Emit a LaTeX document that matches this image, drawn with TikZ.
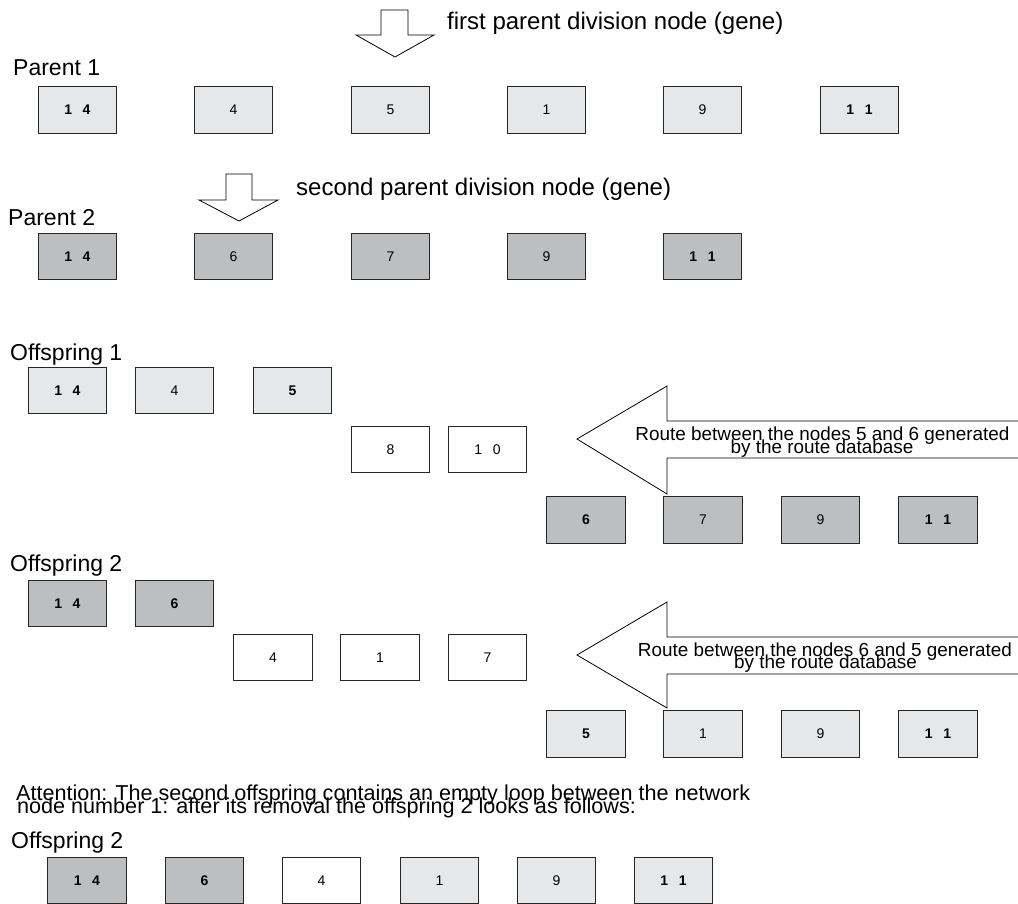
\documentclass[tikz,border=0pt]{standalone}
\usepackage{fontspec}
\setmainfont{Liberation Sans}
\definecolor{lightg}{HTML}{E6E7E8}
\definecolor{darkg}{HTML}{BCBEC0}
\newcommand{\pair}[2]{#1\hspace{0.75em}#2}
\begin{document}
\begin{tikzpicture}[x=1pt,y=-1pt,
  cell/.style={draw=black!85, line width=0.8pt, minimum width=78.5pt, minimum height=46.5pt,
    inner sep=0pt, font=\fontsize{14}{16}\selectfont},
  lite/.style={cell, fill=lightg},
  dark/.style={cell, fill=darkg},
  blank/.style={cell, fill=white},
  caption/.style={inner sep=0pt, anchor=base west, font=\fontsize{23}{27}\selectfont},
  note/.style={inner sep=0pt, anchor=base west, font=\fontsize{24}{28}\selectfont},
  route/.style={inner sep=0pt, anchor=base, font=\fontsize{18.9}{20}\selectfont},
  remark/.style={inner sep=0pt, anchor=base west, font=\fontsize{21.6}{24}\selectfont},
  bigarrow/.style={draw=black, line width=0.8pt, fill=white, line join=miter}
]
\useasboundingbox (0,0) rectangle (1018,903);

% ---- division markers -------------------------------------------------
\draw[bigarrow] (381,10) -- (408,10) -- (408,35) -- (434,35) -- (395,57)
  -- (356,35) -- (381,35) -- cycle;
\node[note] (div1) at (447,29) {first parent division node (gene)};

\draw[bigarrow] (226,174) -- (252,174) -- (252,200) -- (278,200) -- (239,221)
  -- (199,200) -- (226,200) -- cycle;
\node[note] (div2) at (296,195) {second parent division node (gene)};

% ---- Parent 1 -----------------------------------------------------------
\node[caption] (lp1) at (13,75) {Parent 1};
\node[lite] (p1a) at (77.5,110)  {\textbf{\pair14}};
\node[lite] (p1b) at (233.5,110) {4};
\node[lite] (p1c) at (390.5,110) {5};
\node[lite] (p1d) at (546.5,110) {1};
\node[lite] (p1e) at (702.5,110) {9};
\node[lite] (p1f) at (859.5,110) {\textbf{\pair11}};

% ---- Parent 2 -----------------------------------------------------------
\node[caption] (lp2) at (8,225) {Parent 2};
\node[dark] (p2a) at (77.5,256.5)  {\textbf{\pair14}};
\node[dark] (p2b) at (233.5,256.5) {6};
\node[dark] (p2c) at (390.5,256.5) {7};
\node[dark] (p2d) at (546.5,256.5) {9};
\node[dark] (p2e) at (702.5,256.5) {\textbf{\pair11}};

% ---- Offspring 1 --------------------------------------------------------
\node[caption] (lo1) at (10,360) {Offspring 1};
\node[lite] (o1a) at (67.5,390.5)  {\textbf{\pair14}};
\node[lite] (o1b) at (174.5,390.5) {4};
\node[lite] (o1c) at (292.5,390.5) {\textbf{5}};
\node[blank] (o1d) at (390.5,449.5) {8};
\node[blank] (o1e) at (487.5,449.5) {\pair10};
\node[dark] (o1f) at (586,520)   {\textbf{6}};
\node[dark] (o1g) at (703,520)   {7};
\node[dark] (o1h) at (820.5,520) {9};
\node[dark] (o1i) at (938,520)   {\textbf{\pair11}};

\draw[bigarrow] (1020,421) -- (667,421) -- (667,386) -- (577,439) -- (667,494)
  -- (667,458) -- (1020,458);
\node[route] (r1a) at (822.5,440) {Route between the nodes 5 and 6 generated};
\node[route] (r1b) at (822,453) {by the route database};

% ---- Offspring 2 --------------------------------------------------------
\node[caption] (lo2) at (10,571) {Offspring 2};
\node[dark] (o2a) at (67.5,603.5)  {\textbf{\pair14}};
\node[dark] (o2b) at (174.5,603.5) {\textbf{6}};
\node[blank] (o2c) at (273,657.5)   {4};
\node[blank] (o2d) at (380,657.5)   {1};
\node[blank] (o2e) at (487.5,657.5) {7};
\node[lite] (o2f) at (586,734)   {\textbf{5}};
\node[lite] (o2g) at (703,734)   {1};
\node[lite] (o2h) at (820.5,734) {9};
\node[lite] (o2i) at (938,734)   {\textbf{\pair11}};

\draw[bigarrow] (1020,637) -- (667,637) -- (667,602) -- (577,655) -- (667,708)
  -- (667,674) -- (1020,674);
\node[route] (r2a) at (825,656) {Route between the nodes 6 and 5 generated};
\node[route] (r2b) at (825.5,668) {by the route database};

% ---- remark and repaired offspring -----------------------------------------
\node[remark] (att1) at (16,800.7) {Attention: The second offspring contains an empty loop between the network};
\node[remark] (att2) at (17,813.3) {node number 1: after its removal the offspring 2 looks as follows:};

\node[caption] (lo3) at (11,848) {Offspring 2};
\node[dark]  (o3a) at (87,880.5)    {\textbf{\pair14}};
\node[dark]  (o3b) at (204.5,880.5) {\textbf{6}};
\node[blank] (o3c) at (321.5,880.5) {4};
\node[lite]  (o3d) at (439.5,880.5) {1};
\node[lite]  (o3e) at (556.5,880.5) {9};
\node[lite]  (o3f) at (673.5,880.5) {\textbf{\pair11}};
\end{tikzpicture}
\end{document}
